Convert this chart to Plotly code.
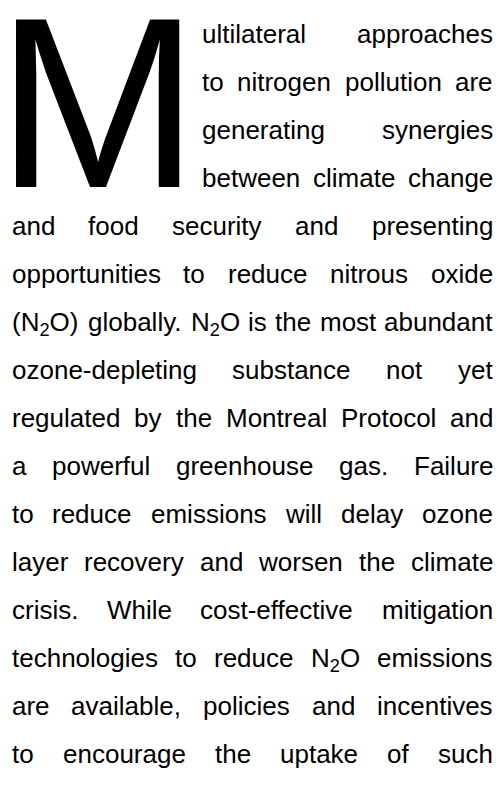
import re
import plotly.graph_objects as go

# ---- content -------------------------------------------------------------
drop_cap = "M"
lines = [
    "ultilateral approaches",
    "to nitrogen pollution are",
    "generating synergies",
    "between climate change",
    "and food security and presenting",
    "opportunities to reduce nitrous oxide",
    "(N<sub>2</sub>O) globally. N<sub>2</sub>O is the most abundant",
    "ozone-depleting substance not yet",
    "regulated by the Montreal Protocol and",
    "a powerful greenhouse gas. Failure",
    "to reduce emissions will delay ozone",
    "layer recovery and worsen the climate",
    "crisis. While cost-effective mitigation",
    "technologies to reduce N<sub>2</sub>O emissions",
    "are available, policies and incentives",
    "to encourage the uptake of such",
]
drop_cap_lines = 4  # lines that wrap beside the drop cap

# ---- layout / style ------------------------------------------------------
W, H = 500, 800
FONT = "Liberation Sans, Arial, Helvetica, sans-serif"
FS = 26
CAP_FS = 244
ASCENT = 0.905
DESCENT = 0.212
LEFT, RIGHT = 12.0, 493.0
INDENT_LEFT = 202.0
BASE0, PITCH = 43.0, 48.0
CAP_CENTER, CAP_BASE = 97.7, 187.0
COLOR = "#000000"

# Helvetica / Arial advance widths (1/1000 em)
WID = {" ": 278, "(": 333, ")": 333, ",": 278, "-": 333, ".": 278}
WID.update({d: 556 for d in "0123456789"})
WID.update(dict(zip("ABCDEFGHIJKLMNOPQRSTUVWXYZ",
                    [667, 667, 722, 722, 667, 611, 778, 722, 278, 500, 667, 556, 833,
                     722, 778, 667, 778, 722, 667, 611, 722, 667, 944, 667, 667, 611])))
WID.update(dict(zip("abcdefghijklmnopqrstuvwxyz",
                    [556, 556, 500, 556, 556, 278, 556, 556, 222, 222, 500, 222, 833,
                     556, 556, 556, 556, 333, 500, 278, 556, 500, 722, 500, 500, 500])))


def word_width(word, fs):
    total = 0.0
    for part in re.split(r"(<sub>.*?</sub>)", word):
        if part.startswith("<sub>"):
            txt, scale = part[5:-6], 0.7
        else:
            txt, scale = part, 1.0
        total += sum(WID.get(c, 556) for c in txt) * scale
    return total * fs / 1000.0


fig = go.Figure()
annotations = []

# drop cap
annotations.append(dict(
    text=drop_cap, x=CAP_CENTER, y=CAP_BASE + DESCENT * CAP_FS,
    xref="x", yref="y", xanchor="center", yanchor="bottom", showarrow=False,
    font=dict(family=FONT, size=CAP_FS, color=COLOR), borderpad=0, borderwidth=0,
))

for i, line in enumerate(lines):
    words = line.split(" ")
    left = INDENT_LEFT if i < drop_cap_lines else LEFT
    widths = [word_width(w, FS) for w in words]
    gap = (RIGHT - left - sum(widths)) / max(len(words) - 1, 1)
    top = BASE0 + i * PITCH - ASCENT * FS
    x = left
    for j, (w, ww) in enumerate(zip(words, widths)):
        if j == 0:
            xa, xp = "left", x
        elif j == len(words) - 1:
            xa, xp = "right", RIGHT
        else:
            xa, xp = "center", x + ww / 2
        annotations.append(dict(
            text=w, x=xp, y=top, xref="x", yref="y", xanchor=xa, yanchor="top",
            showarrow=False, font=dict(family=FONT, size=FS, color=COLOR),
            borderpad=0, borderwidth=0,
        ))
        x += ww + gap

fig.update_layout(
    width=W, height=H, margin=dict(l=0, r=0, t=0, b=0),
    paper_bgcolor="white", plot_bgcolor="white",
    xaxis=dict(range=[0, W], visible=False, fixedrange=True),
    yaxis=dict(range=[H, 0], visible=False, fixedrange=True),
    annotations=annotations, showlegend=False,
)
fig.write_html(
    "out.html",
    config={"displayModeBar": False},
    post_script="document.body.style.margin='0';document.body.style.overflow='hidden';",
)
